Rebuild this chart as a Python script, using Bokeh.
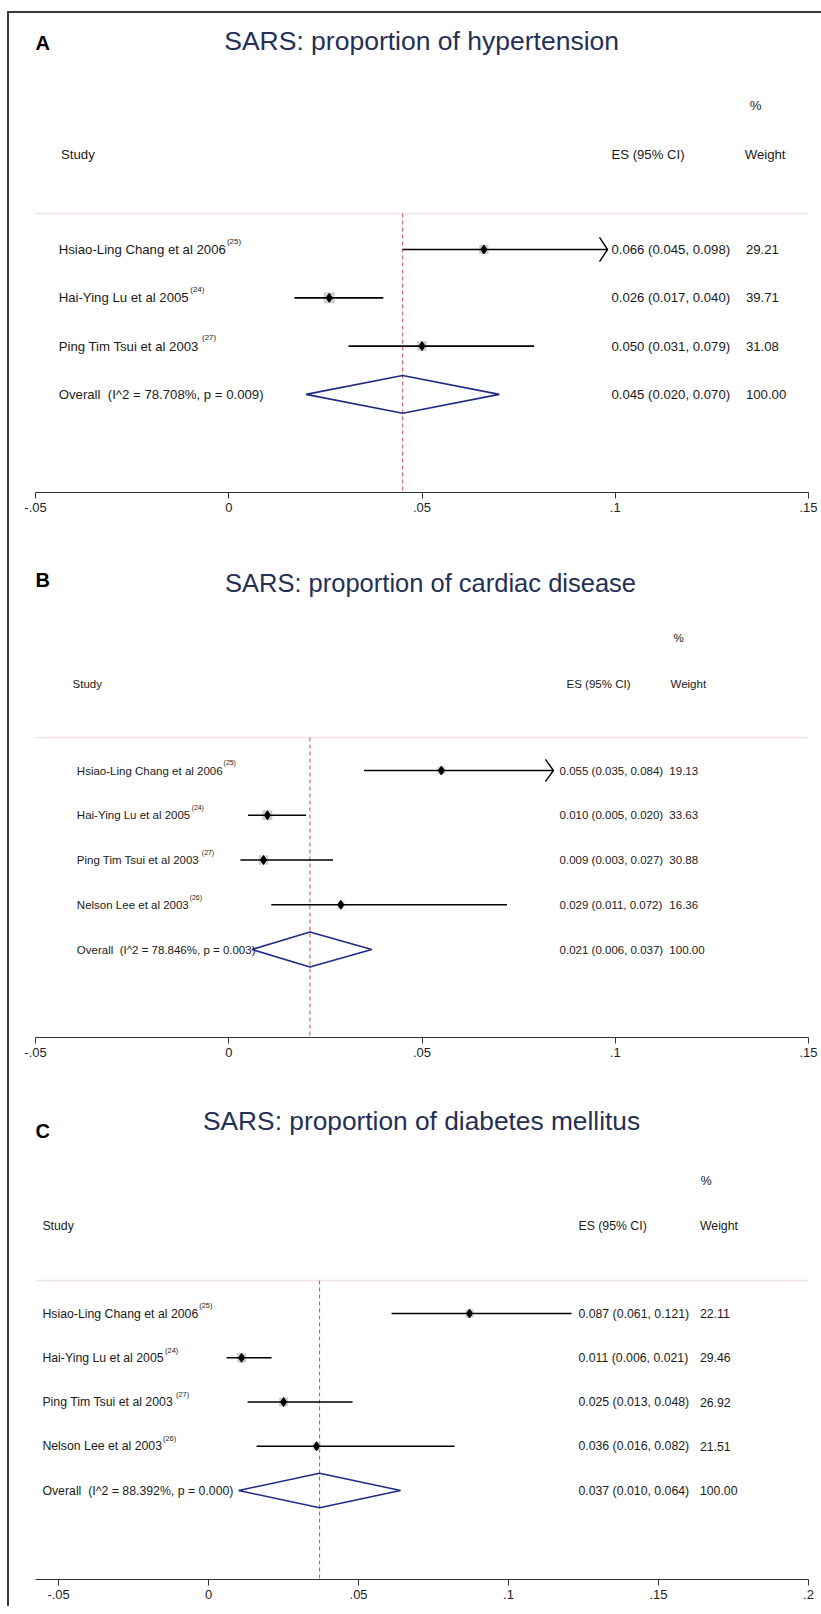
import math
from bokeh.plotting import figure
from bokeh.models import Range1d, FixedTicker, CustomJSTickFormatter
from bokeh.layouts import column
from bokeh.embed import file_html
from bokeh.resources import INLINE
from bokeh.core.properties import value

# ---------------- data ----------------
# Panel A: hypertension
a_studies = ["Hsiao-Ling Chang et al 2006", "Hai-Ying Lu et al 2005", "Ping Tim Tsui et al 2003"]
a_refs = ["(25)", "(24)", "(27)"]
a_es = [0.066, 0.026, 0.050]
a_lo = [0.045, 0.017, 0.031]
a_hi = [0.098, 0.040, 0.079]
a_wt = [29.21, 39.71, 31.08]
a_arrow = [True, False, False]
a_overall = [0.045, 0.020, 0.070]
a_i2 = "78.708%"
a_p = "0.009"
a_ticks = [-0.05, 0.0, 0.05, 0.10, 0.15]
a_tick_labels = ["-.05", "0", ".05", ".1", ".15"]

# Panel B: cardiac disease
b_studies = ["Hsiao-Ling Chang et al 2006", "Hai-Ying Lu et al 2005", "Ping Tim Tsui et al 2003", "Nelson Lee et al 2003"]
b_refs = ["(25)", "(24)", "(27)", "(26)"]
b_es = [0.055, 0.010, 0.009, 0.029]
b_lo = [0.035, 0.005, 0.003, 0.011]
b_hi = [0.084, 0.020, 0.027, 0.072]
b_wt = [19.13, 33.63, 30.88, 16.36]
b_arrow = [True, False, False, False]
b_overall = [0.021, 0.006, 0.037]
b_i2 = "78.846%"
b_p = "0.003"
b_ticks = [-0.05, 0.0, 0.05, 0.10, 0.15]
b_tick_labels = ["-.05", "0", ".05", ".1", ".15"]

# Panel C: diabetes mellitus
c_studies = ["Hsiao-Ling Chang et al 2006", "Hai-Ying Lu et al 2005", "Ping Tim Tsui et al 2003", "Nelson Lee et al 2003"]
c_refs = ["(25)", "(24)", "(27)", "(26)"]
c_es = [0.087, 0.011, 0.025, 0.036]
c_lo = [0.061, 0.006, 0.013, 0.016]
c_hi = [0.121, 0.021, 0.048, 0.082]
c_wt = [22.11, 29.46, 26.92, 21.51]
c_arrow = [False, False, False, False]
c_overall = [0.037, 0.010, 0.064]
c_i2 = "88.392%"
c_p = "0.000"
c_ticks = [-0.05, 0.0, 0.05, 0.10, 0.15, 0.20]
c_tick_labels = ["-.05", "0", ".05", ".1", ".15", ".2"]

# ---------------- style / layout ----------------
FONT = "Liberation Sans"
TITLE_COLOR = "#243056"
DIAMOND_COLOR = "#1f2a84"
RED = "#e0484e"
FIG_W = 812
MB_LEFT = 26
MB_RIGHT = 13

# Arial advance widths (per 1000 em) used to place the superscripts
AW = {' ': 278, '(': 333, ')': 333, '-': 333, '.': 278, ',': 278, '%': 889, '^': 469, '=': 584, ':': 278}
for ch in "0123456789":
    AW[ch] = 556
AW.update(dict(A=667, B=667, C=722, D=722, E=667, F=611, G=778, H=722, I=278, J=500, K=667, L=556,
               M=833, N=722, O=778, P=667, Q=778, R=722, S=667, T=611, U=722, V=667, W=944, X=667,
               Y=667, Z=611, a=556, b=556, c=500, d=556, e=556, f=278, g=556, h=556, i=222, j=222,
               k=500, l=222, m=833, n=556, o=556, p=556, q=556, r=333, s=500, t=278, u=556, v=500,
               w=722, x=500, y=500, z=500))


def text_px(s, fs):
    return sum(AW.get(ch, 556) for ch in s) * fs / 1000.0


def panel(letter, title, studies, refs, es, lo, hi, wt, arrow, overall, i2, pval,
          ticks, tick_labels, L):
    x0, x1 = L["x"]
    p = figure(width=FIG_W, height=L["h"], x_range=Range1d(x0, x1),
               y_range=Range1d(L["y"][0], L["y"][1]),
               output_backend="svg", toolbar_location=None, y_axis_location=None,
               min_border_left=MB_LEFT, min_border_right=MB_RIGHT,
               min_border_top=0, min_border_bottom=L["mb"])
    p.outline_line_color = None
    p.grid.visible = False
    p.background_fill_color = "white"
    p.border_fill_color = "white"

    frame_w = FIG_W - MB_LEFT - MB_RIGHT
    ppu = frame_w / (x1 - x0)          # pixels per data unit
    fs = L["fs"]
    n = len(studies)
    ys = [i + 1 for i in range(n)]
    yo = n + 1
    txt = dict(text_font=value(FONT), text_baseline="middle", text_align="left")

    # separator and reference line
    p.segment(x0=[x0], y0=[L["sep"]], x1=[x1], y1=[L["sep"]], line_color="#f1e3e3", line_width=1.5)
    p.segment(x0=[overall[0]], y0=[L["sep"]], x1=[overall[0]], y1=[L["y"][0]],
              line_color=RED, line_dash="4 3", line_width=1)

    # weight boxes, CIs, point estimates
    p.scatter(es, ys, marker="square", size=[1.7 * math.sqrt(w) for w in wt],
              fill_color="#bcbcbc", fill_alpha=0.75, line_color=None)
    p.segment(x0=lo, y0=ys, x1=hi, y1=ys, line_color="black", line_width=1.7)
    p.scatter(es, ys, marker="diamond", size=9, color="black")
    adx = 8 / ppu
    for h, y, a in zip(hi, ys, arrow):
        if a:
            p.line([h - adx, h, h - adx], [y - 0.25, y, y + 0.25], line_color="black", line_width=1.4)

    # overall diamond
    hh = 0.39
    p.patch([overall[1], overall[0], overall[2], overall[0]], [yo, yo - hh, yo, yo + hh],
            fill_color=None, line_color=DIAMOND_COLOR, line_width=1.6)

    # row labels
    names = list(studies) + [f"Overall \u00a0(I^2 = {i2}, p = {pval})"]
    p.text(x=[L["name_x"]] * (n + 1), y=ys + [yo], text=names, text_font_size=value(f"{fs}px"),
           text_color="#1a1a1a", **txt)
    sfs = round(fs * 0.6, 1)
    sx = [L["name_x"] + (text_px(s, fs) + 1) / ppu for s in studies]
    p.text(x=sx, y=[y - 0.17 for y in ys], text=refs, text_font_size=value(f"{sfs}px"),
           text_color="#1a1a1a", **txt)
    ests = [f"{e:.3f} ({l:.3f}, {h:.3f})" for e, l, h in zip(es, lo, hi)]
    ests.append(f"{overall[0]:.3f} ({overall[1]:.3f}, {overall[2]:.3f})")
    p.text(x=[L["est_x"]] * (n + 1), y=ys + [yo], text=ests, text_font_size=value(f"{fs}px"),
           text_color="#1a1a1a", **txt)
    wts = [f"{w:.2f}" for w in wt] + [f"{100:.2f}"]
    p.text(x=[L["wt_x"]] * (n + 1), y=ys + [yo], text=wts, text_font_size=value(f"{fs}px"),
           text_color="#1a1a1a", **txt)

    # headers
    p.text(x=[L["study_x"], L["esh_x"], L["wth_x"]], y=[L["head"]] * 3,
           text=["Study", "ES (95% CI)", "Weight"], text_font_size=value(f"{fs}px"),
           text_color="#1a1a1a", **txt)
    p.text(x=[L["pct_x"]], y=[L["pct"]], text=["%"], text_font_size=value(f"{fs}px"),
           text_color="#1a1a1a", **txt)

    # panel letter and title
    p.text(x=[x0], y=[L["letter"]], text=[letter], text_font_size=value("20px"),
           text_font_style="bold", text_color="black", **txt)
    p.text(x=[L["title_x"]], y=[L["title"]], text=[title], text_font=value(FONT),
           text_font_size=value(f"{L['tfs']}px"), text_color=TITLE_COLOR,
           text_align="center", text_baseline="middle")

    # axis
    ax = p.xaxis[0]
    ax.ticker = FixedTicker(ticks=ticks)
    ax.formatter = CustomJSTickFormatter(args=dict(labels=tick_labels), code="return labels[index];")
    ax.axis_line_color = "#333333"
    ax.axis_line_width = 1.2
    ax.major_tick_line_color = "#333333"
    ax.major_tick_out = 6
    ax.major_tick_in = 0
    ax.minor_tick_line_color = None
    ax.major_label_standoff = 4
    ax.major_label_text_font = FONT
    ax.major_label_text_font_size = "13px"
    ax.major_label_text_color = "#222222"
    return p


LA = dict(h=532, mb=53, x=(-0.05, 0.15), y=(6.031, -3.886), fs=13.2, tfs=26.5,
          title=-3.327, letter=-3.265, pct=-1.981, head=-0.967, sep=0.255,
          name_x=-0.0440, study_x=-0.0434, est_x=0.0990, wt_x=0.1338,
          esh_x=0.0990, wth_x=0.1335, pct_x=0.1348, title_x=0.0499)
LB = dict(h=535, mb=43, x=(-0.05, 0.15), y=(6.966, -4.028), fs=11.5, tfs=25.5,
          title=-3.201, letter=-3.246, pct=-1.950, head=-0.944, sep=0.263,
          name_x=-0.0393, study_x=-0.0404, est_x=0.0856, wt_x=0.1140,
          esh_x=0.0874, wth_x=0.1143, pct_x=0.1151, title_x=0.0522)
LC = dict(h=526, mb=27, x=(-0.0577, 0.20), y=(7.011, -4.266), fs=12.3, tfs=26.3,
          title=-3.362, letter=-3.136, pct=-2.006, head=-0.989, sep=0.254,
          name_x=-0.0554, study_x=-0.0554, est_x=0.1233, wt_x=0.1638,
          esh_x=0.1233, wth_x=0.1638, pct_x=0.1641, title_x=0.071)

pA = panel("A", "SARS: proportion of hypertension", a_studies, a_refs, a_es, a_lo, a_hi, a_wt,
           a_arrow, a_overall, a_i2, a_p, a_ticks, a_tick_labels, LA)
pB = panel("B", "SARS: proportion of cardiac disease", b_studies, b_refs, b_es, b_lo, b_hi, b_wt,
           b_arrow, b_overall, b_i2, b_p, b_ticks, b_tick_labels, LB)
pC = panel("C", "SARS: proportion of diabetes mellitus", c_studies, c_refs, c_es, c_lo, c_hi, c_wt,
           c_arrow, c_overall, c_i2, c_p, c_ticks, c_tick_labels, LC)

layout = column(pA, pB, pC, spacing=0,
                styles={"border-left": "2px solid #3a3a3a", "border-top": "2px solid #3a3a3a",
                        "margin-top": "11px", "margin-left": "7px"})

open("out.html", "w").write(file_html(layout, INLINE))
